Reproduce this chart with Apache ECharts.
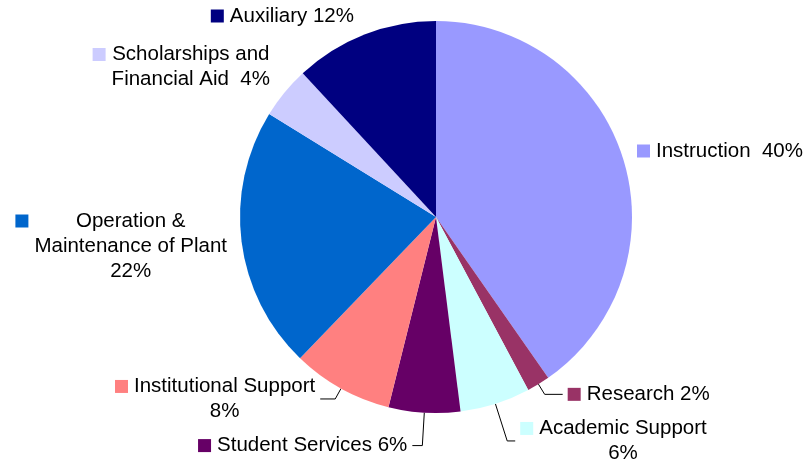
<!DOCTYPE html>
<html>
<head>
<meta charset="utf-8">
<script src="https://cdn.jsdelivr.net/npm/echarts@6/dist/echarts.min.js"></script>
<style>
html,body{margin:0;padding:0;background:#fff;}
#chart{width:808px;height:462px;}
</style>
</head>
<body>
<div id="chart"></div>
<script>
// ---- data ----
const categories = ['Instruction', 'Research', 'Academic Support', 'Student Services',
  'Institutional Support', 'Operation & Maintenance of Plant', 'Scholarships and Financial Aid', 'Auxiliary'];
const values = [40.3, 1.9, 5.8, 5.9, 8.3, 21.6, 4.3, 11.9];
const percentLabels = ['40%', '2%', '6%', '6%', '8%', '22%', '4%', '12%'];
const labelNames = ['Instruction', 'Research', 'Academic Support', 'Student Services',
  'Institutional Support', 'Operation &\nMaintenance of Plant', 'Scholarships and\nFinancial Aid', 'Auxiliary'];
const labelSeparators = ['  ', ' ', '\n', ' ', '\n', '\n', '  ', ' '];
const colors = ['#9999FF', '#993366', '#CCFFFF', '#660066', '#FF8080', '#0066CC', '#CCCCFF', '#000080'];

// ---- layout config (not data) ----
const lineCfg = [null, {length: 12, length2: 18}, {length: 39, length2: 8}, {length: 33, length2: 10},
  {length: 12, length2: 15}, null, null, null];
const fixedLabels = {
  0: {x: 637, y: 151, align: 'left'},
  5: {x: 227, y: 246, align: 'right'},
  6: {x: 270, y: 67, align: 'right'},
  7: {x: 354, y: 16, align: 'right'}
};

const rich = {
  g: {width: 6, height: 13},
  sp: {width: 19, height: 13},
  t: {fontSize: 20.5, fontFamily: 'Liberation Sans, Arial, sans-serif', color: '#000', lineHeight: 25, align: 'center'}
};
colors.forEach((c, i) => { rich['sq' + i] = {width: 13, height: 13, backgroundColor: c, align: 'left'}; });
rich.g.align = 'left';
rich.sp.align = 'left';

const data = categories.map((name, i) => {
  const item = {name: name, value: values[i], itemStyle: {color: colors[i]}};
  if (lineCfg[i]) {
    item.labelLine = {show: true, length: lineCfg[i].length, length2: lineCfg[i].length2};
  } else {
    item.labelLine = {show: false};
  }
  return item;
});

const chart = echarts.init(document.getElementById('chart'), null, {renderer: 'canvas'});
chart.setOption({
  backgroundColor: '#fff',
  animation: false,
  series: [{
    type: 'pie',
    center: [436, 217],
    radius: 196,
    startAngle: 90,
    clockwise: true,
    avoidLabelOverlap: false,
    data: data,
    itemStyle: {borderWidth: 0},
    emphasis: {disabled: true},
    label: {
      show: true,
      position: 'outside',
      distanceToLabelLine: 5,
      fontSize: 20.5,
      fontFamily: 'Liberation Sans, Arial, sans-serif',
      color: '#000',
      lineHeight: 25,
      formatter: function (p) {
        const i = p.dataIndex;
        const txt = labelNames[i] + labelSeparators[i] + percentLabels[i];
        const lines = txt.split('\n');
        return lines.map((ln, k) => (k === 0 ? '{sq' + i + '|}{g|}' : '{sp|}') + '{t|' + ln + '}').join('\n');
      },
      rich: rich
    },
    labelLine: {
      lineStyle: {color: '#000', width: 1},
      minTurnAngle: 80
    },
    labelLayout: function (p) {
      const f = fixedLabels[p.dataIndex];
      if (f) return {x: f.x, y: f.y, align: f.align, verticalAlign: 'middle'};
      return {};
    }
  }]
});
</script>
</body>
</html>
